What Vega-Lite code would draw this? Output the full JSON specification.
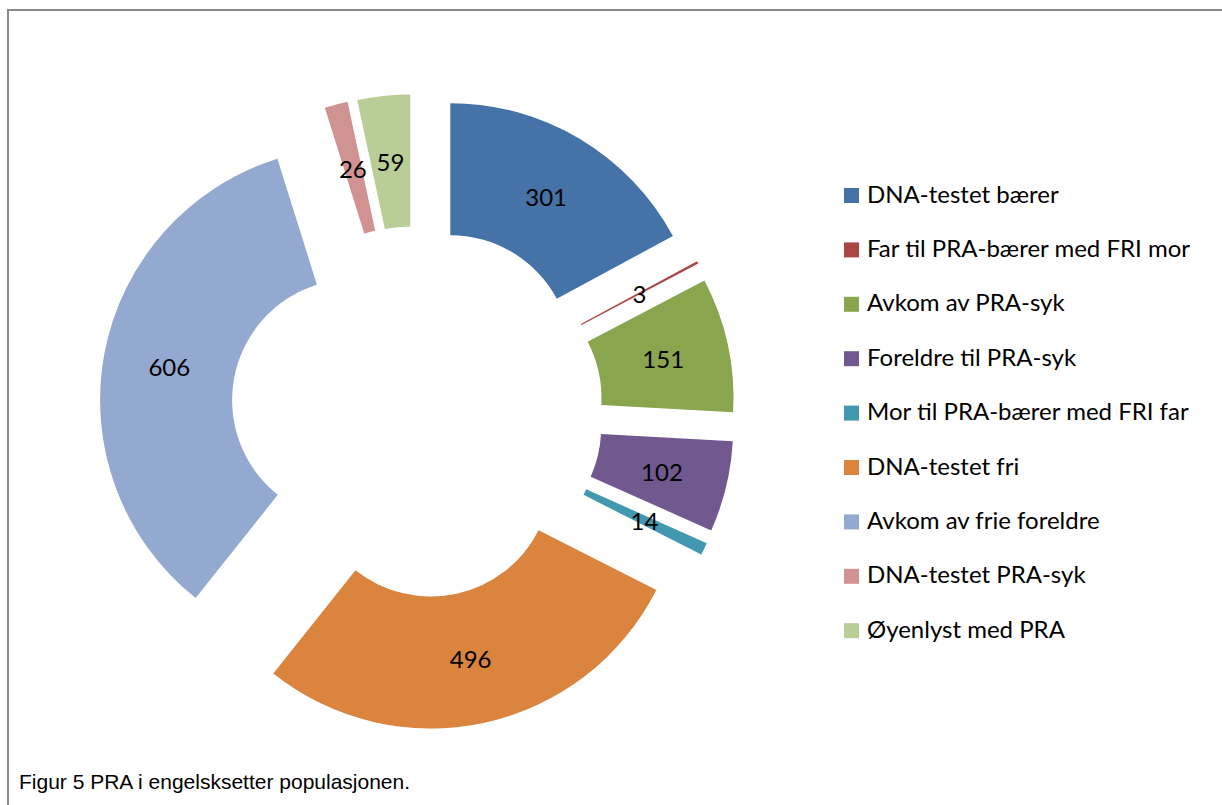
{
  "$schema": "https://vega.github.io/schema/vega-lite/v6.json",
  "width": 1214,
  "height": 795,
  "autosize": {"type": "none"},
  "padding": {"left": 8, "top": 10, "right": 0, "bottom": 0},
  "background": "white",
  "view": {"stroke": "#8a8a8a", "strokeWidth": 2, "strokeDash": [1214, 2009, 795, 10]},
  "title": {
    "text": "Figur 5 PRA i engelsksetter populasjonen.",
    "orient": "bottom",
    "anchor": "start",
    "frame": "group",
    "font": "Liberation Sans",
    "fontSize": 21,
    "fontWeight": "normal",
    "color": "black",
    "baseline": "alphabetic",
    "offset": -16,
    "dx": 11
  },
  "data": {
    "values": [
      {"i": 1, "cat": "DNA-testet bærer", "n": 301},
      {"i": 2, "cat": "Far til PRA-bærer med FRI mor", "n": 3},
      {"i": 3, "cat": "Avkom av PRA-syk", "n": 151},
      {"i": 4, "cat": "Foreldre til PRA-syk", "n": 102},
      {"i": 5, "cat": "Mor til PRA-bærer med FRI far", "n": 14},
      {"i": 6, "cat": "DNA-testet fri", "n": 496},
      {"i": 7, "cat": "Avkom av frie foreldre", "n": 606},
      {"i": 8, "cat": "DNA-testet PRA-syk", "n": 26},
      {"i": 9, "cat": "Øyenlyst med PRA", "n": 59}
    ]
  },
  "encoding": {
    "theta": {"field": "n", "type": "quantitative", "stack": true},
    "order": {"field": "i", "type": "quantitative"}
  },
  "layer": [
    {"mark": {"type": "arc", "innerRadius": 121, "outerRadius": 253, "xOffset": -164.7, "yOffset": -51.3},
     "encoding": {"color": {"field": "cat", "type": "nominal", "sort": null, "scale": {"domain": ["DNA-testet bærer", "Far til PRA-bærer med FRI mor", "Avkom av PRA-syk", "Foreldre til PRA-syk", "Mor til PRA-bærer med FRI far", "DNA-testet fri", "Avkom av frie foreldre", "DNA-testet PRA-syk", "Øyenlyst med PRA"], "range": ["#4572A7", "#AA4643", "#89A54E", "#71588F", "#4198AF", "#DB843D", "#93A9CF", "#D19392", "#B9CD96"]}, "condition": {"test": "datum.i != 1", "value": "transparent"}}}},
    {"mark": {"type": "arc", "innerRadius": 121, "outerRadius": 253, "xOffset": -140.6, "yOffset": -26.1},
     "encoding": {"color": {"field": "cat", "type": "nominal", "sort": null, "condition": {"test": "datum.i != 2", "value": "transparent"}}}},
    {"mark": {"type": "arc", "innerRadius": 121, "outerRadius": 253, "xOffset": -134.5, "yOffset": -9.3},
     "encoding": {"color": {"field": "cat", "type": "nominal", "sort": null, "condition": {"test": "datum.i != 3", "value": "transparent"}}}},
    {"mark": {"type": "arc", "innerRadius": 121, "outerRadius": 253, "xOffset": -134.8, "yOffset": 19.8},
     "encoding": {"color": {"field": "cat", "type": "nominal", "sort": null, "condition": {"test": "datum.i != 4", "value": "transparent"}}}},
    {"mark": {"type": "arc", "innerRadius": 121, "outerRadius": 253, "xOffset": -139.3, "yOffset": 32.5},
     "encoding": {"color": {"field": "cat", "type": "nominal", "sort": null, "condition": {"test": "datum.i != 5", "value": "transparent"}}}},
    {"mark": {"type": "arc", "innerRadius": 121, "outerRadius": 253, "xOffset": -184.2, "yOffset": 68.0},
     "encoding": {"color": {"field": "cat", "type": "nominal", "sort": null, "condition": {"test": "datum.i != 6", "value": "transparent"}}}},
    {"mark": {"type": "arc", "innerRadius": 121, "outerRadius": 253, "xOffset": -261.9, "yOffset": -7.4},
     "encoding": {"color": {"field": "cat", "type": "nominal", "sort": null, "condition": {"test": "datum.i != 7", "value": "transparent"}}}},
    {"mark": {"type": "arc", "innerRadius": 121, "outerRadius": 253, "xOffset": -214.5, "yOffset": -58.4},
     "encoding": {"color": {"field": "cat", "type": "nominal", "sort": null, "condition": {"test": "datum.i != 8", "value": "transparent"}}}},
    {"mark": {"type": "arc", "innerRadius": 121, "outerRadius": 253, "xOffset": -204.8, "yOffset": -60.1},
     "encoding": {"color": {"field": "cat", "type": "nominal", "sort": null, "condition": {"test": "datum.i != 9", "value": "transparent"}}}},
    {"mark": {"type": "text", "radius": 252, "xOffset": -198, "yOffset": 7.5, "font": "Lato", "fontSize": 24, "color": "black", "align": "center", "baseline": "middle"},
     "encoding": {"text": {"field": "n", "type": "quantitative"}}}
  ],
  "resolve": {"scale": {"color": "shared"}},
  "config": {
    "legend": {
      "orient": "none",
      "legendX": 831.5,
      "legendY": 173.5,
      "title": null,
      "symbolType": "square",
      "symbolSize": 225,
      "symbolStrokeWidth": 0,
      "symbolOpacity": 1,
      "labelFont": "Lato",
      "labelFontSize": 24,
      "labelColor": "black",
      "labelLimit": 400,
      "labelOffset": 3.5,
      "rowPadding": 30.4,
      "padding": 0
    }
  }
}
